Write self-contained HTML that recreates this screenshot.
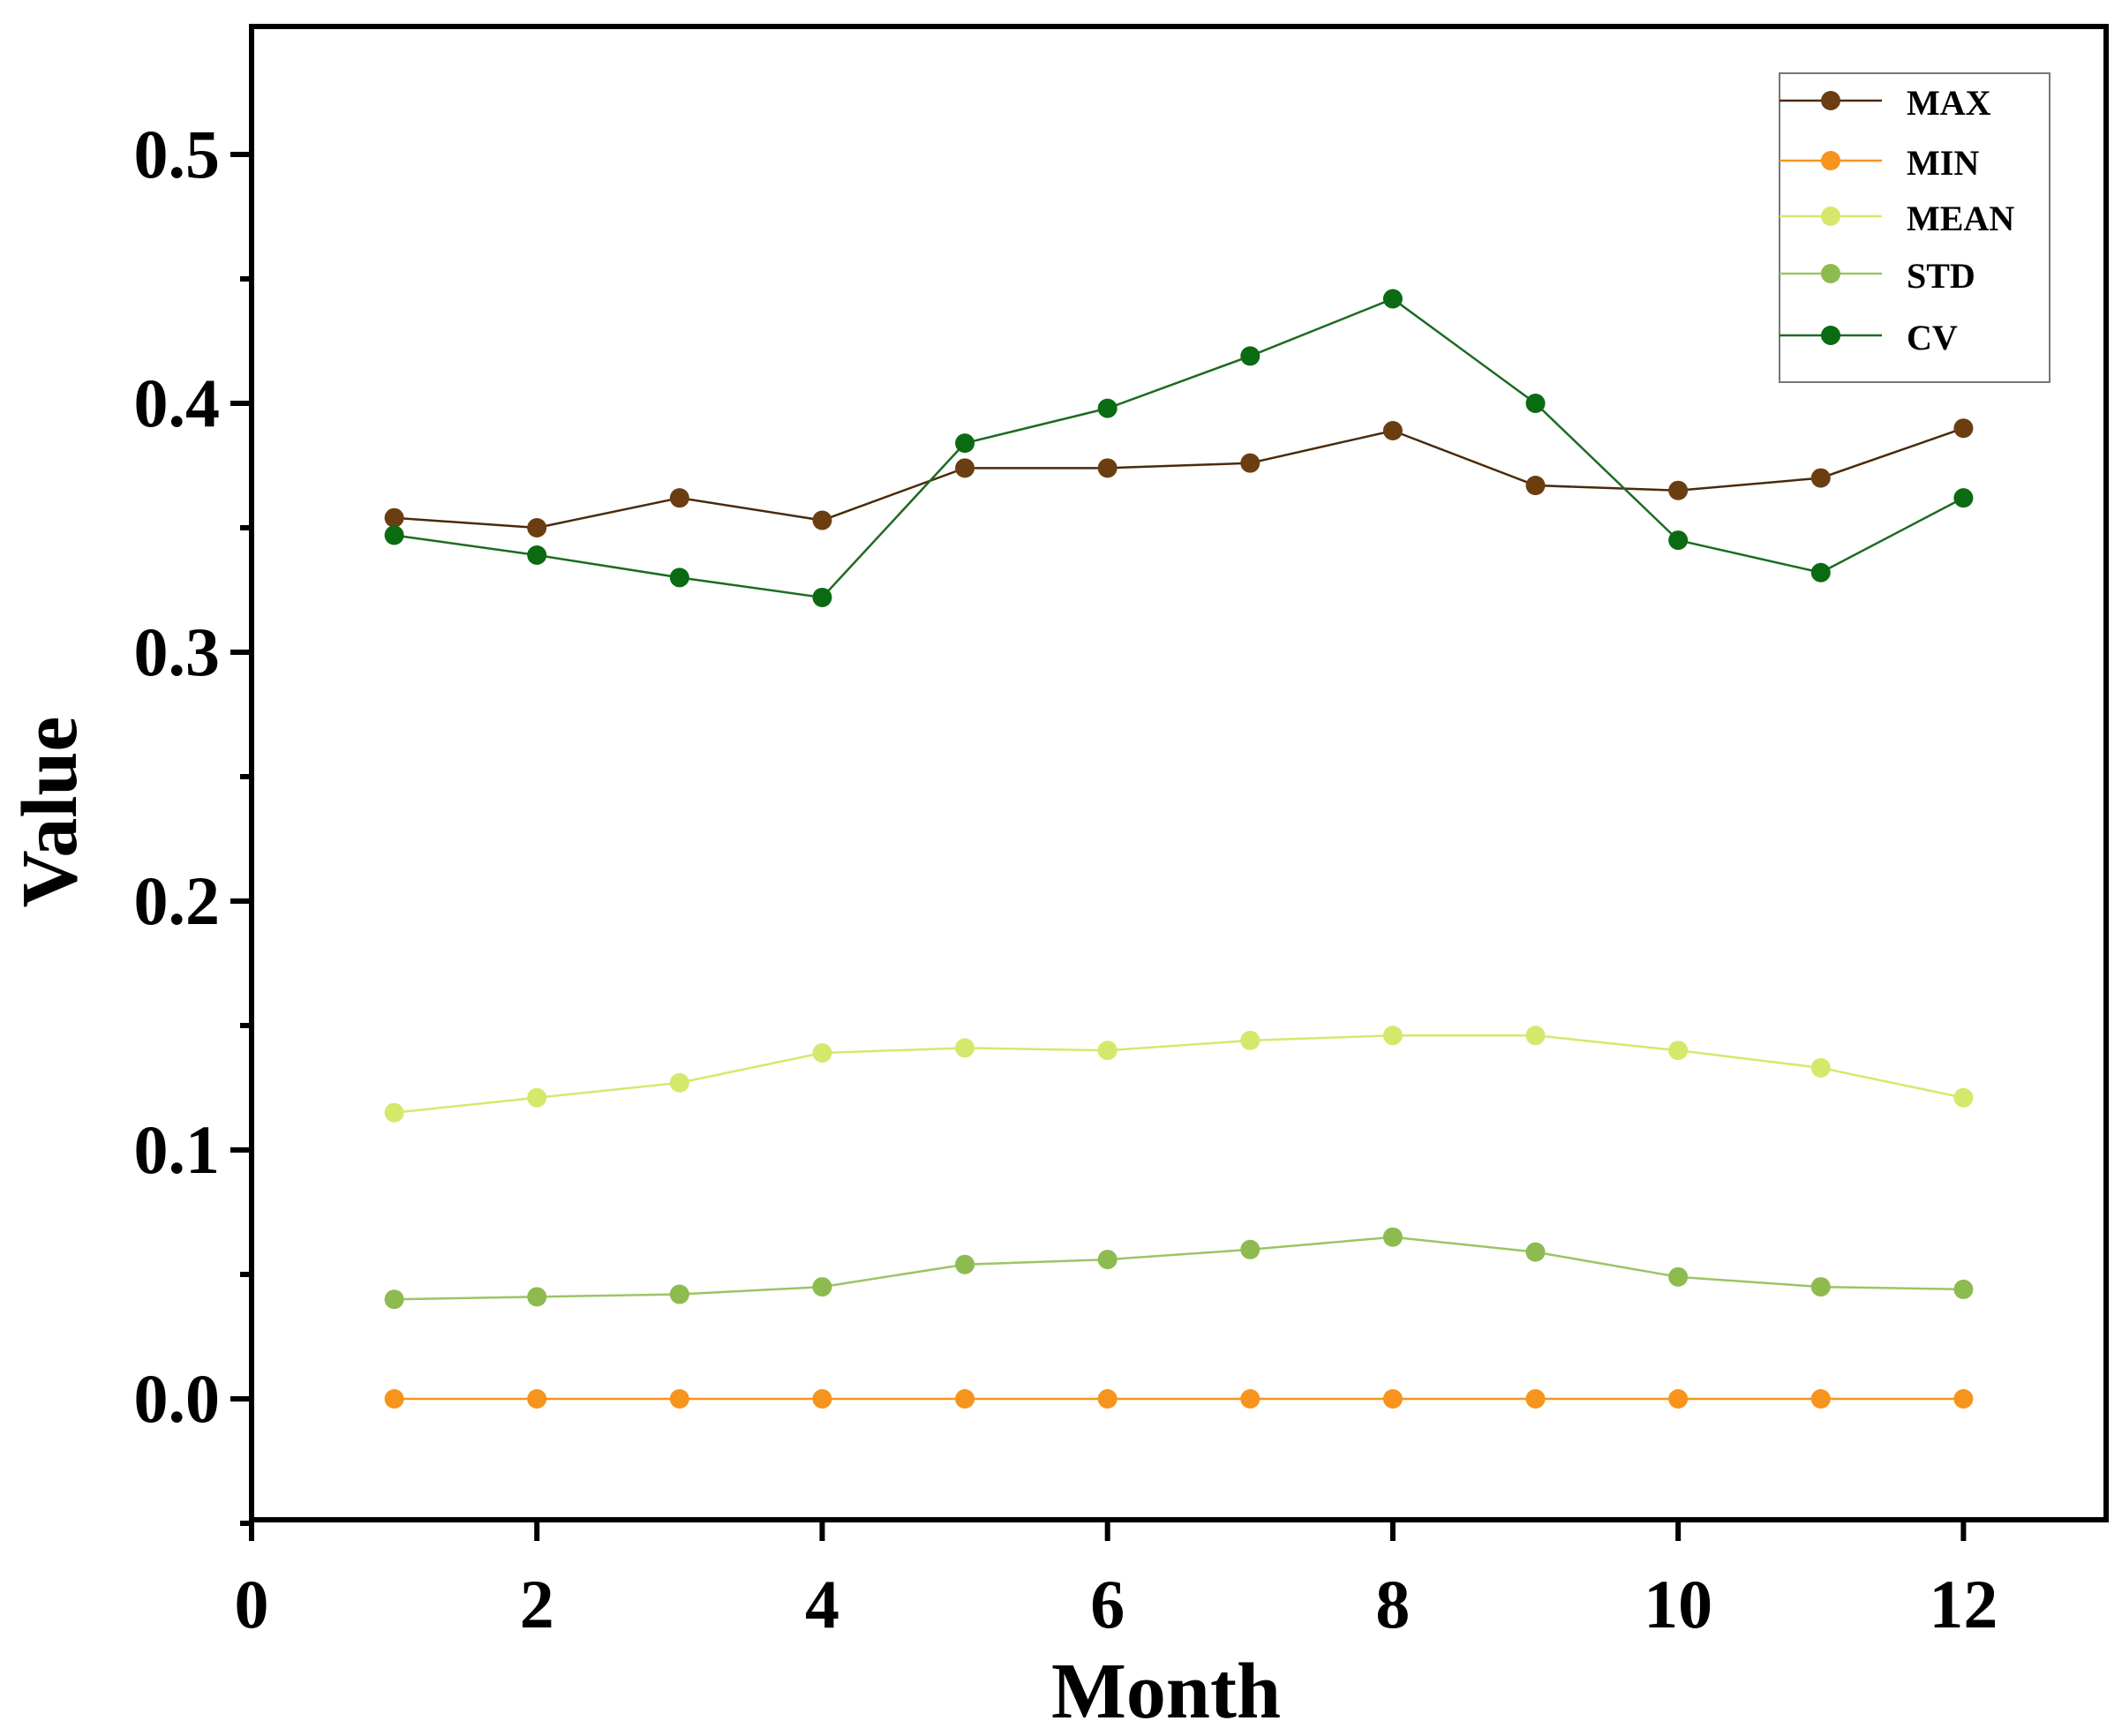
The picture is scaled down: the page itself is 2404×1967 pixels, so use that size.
<!DOCTYPE html>
<html><head><meta charset="utf-8">
<style>html,body{margin:0;padding:0;background:#fff}svg{display:block}</style>
</head><body>
<svg id="chart" width="2404" height="1967" viewBox="0 0 2404 1967" xmlns="http://www.w3.org/2000/svg" font-family="'Liberation Serif', serif" font-weight="bold">
<g id="plot"></g>
</svg>
<script>
const months = [1,2,3,4,5,6,7,8,9,10,11,12];
const maxVals = [0.354,0.350,0.362,0.353,0.374,0.374,0.376,0.389,0.367,0.365,0.370,0.390];
const minVals = [0,0,0,0,0,0,0,0,0,0,0,0];
const meanVals = [0.115,0.121,0.127,0.139,0.141,0.140,0.144,0.146,0.146,0.140,0.133,0.121];
const stdVals = [0.040,0.041,0.042,0.045,0.054,0.056,0.060,0.065,0.059,0.049,0.045,0.044];
const cvVals = [0.347,0.339,0.330,0.322,0.384,0.398,0.419,0.442,0.400,0.345,0.332,0.362];
const seriesNames = ["MAX","MIN","MEAN","STD","CV"];
const yTicks = [0.0,0.1,0.2,0.3,0.4,0.5];
const yTickLabels = ["0.0","0.1","0.2","0.3","0.4","0.5"];
const yMinorTicks = [-0.05,0.05,0.15,0.25,0.35,0.45];
const xTicks = [0,2,4,6,8,10,12];

const NS = "http://www.w3.org/2000/svg";
const L=285, R=2386, T=30, B=1722;
const xMin=0, xMax=13, yMin=-0.05, yMax=0.55;
const yOff=4;
function xs(v){return L+(v-xMin)/(xMax-xMin)*(R-L);}
function ys(v){return B-(v-yMin)/(yMax-yMin)*(B-T)+yOff;}
const g=document.getElementById('plot');
function mk(tag, attrs, parent){const e=document.createElementNS(NS,tag);for(const k in attrs)e.setAttribute(k,attrs[k]);(parent||g).appendChild(e);return e;}

let e;
e=mk('rect',{x:L,y:T,width:R-L,height:B-T,fill:'none',stroke:'#000','stroke-width':6});



yTicks.forEach((v,i)=>{
  const t=mk('line',{x1:L-24,x2:L,y1:ys(v),y2:ys(v),stroke:'#000','stroke-width':6});
  
  
  const tx=mk('text',{x:L-36,y:ys(v)+26,'text-anchor':'end','font-size':78});
  tx.textContent=yTickLabels[i];
  
  
});
yMinorTicks.forEach(v=>{
  const t=mk('line',{x1:L-13,x2:L,y1:ys(v),y2:ys(v),stroke:'#000','stroke-width':6});
  
  
});
xTicks.forEach(v=>{
  const t=mk('line',{x1:xs(v),x2:xs(v),y1:B,y2:B+24,stroke:'#000','stroke-width':6});
  
  
  const tx=mk('text',{x:xs(v),y:1844,'text-anchor':'middle','font-size':78});
  tx.textContent=String(v);
  
  
});

e=mk('text',{x:1321,y:1946,'text-anchor':'middle','font-size':90});
e.textContent='Month';


e=mk('text',{x:0,y:0,'text-anchor':'middle','font-size':90,transform:'translate(86,920) rotate(-90)'});
e.textContent='Value';



const seriesData=[maxVals,minVals,meanVals,stdVals,cvVals];
const colors=['#6B3E12','#F7941D','#D6E86C','#8DBB4F','#0B6B12'];
const lineColors=['#4a2a0c','#F7941D','#D6E86C','#9CC465','#1c6b22'];

seriesData.forEach((vals,si)=>{
  const sg=mk('g',{});
  
  
  const pts=vals.map((v,i)=>xs(months[i])+','+ys(v)).join(' ');
  const pl=mk('polyline',{points:pts,fill:'none',stroke:lineColors[si],'stroke-width':2.5},sg);
  
  
  vals.forEach((v,i)=>{
    const c=mk('circle',{cx:xs(months[i]),cy:ys(v),r:11,fill:colors[si]},sg);
    
    
  });
});

const lg=mk('g',{});


e=mk('rect',{x:2016,y:83,width:306,height:350,fill:'#fff',stroke:'#777','stroke-width':2},lg);


const legY=[114,182,245,310,380];
seriesNames.forEach((n,i)=>{
  const eg=mk('g',{},lg);
  
  
  mk('line',{x1:2016,x2:2132,y1:legY[i],y2:legY[i],stroke:lineColors[i],'stroke-width':2.5},eg);
  mk('circle',{cx:2074,cy:legY[i],r:11,fill:colors[i]},eg);
  const t=mk('text',{x:2160,y:legY[i]+16,'font-size':40},eg);
  t.textContent=n;
});
</script>
</body></html>
